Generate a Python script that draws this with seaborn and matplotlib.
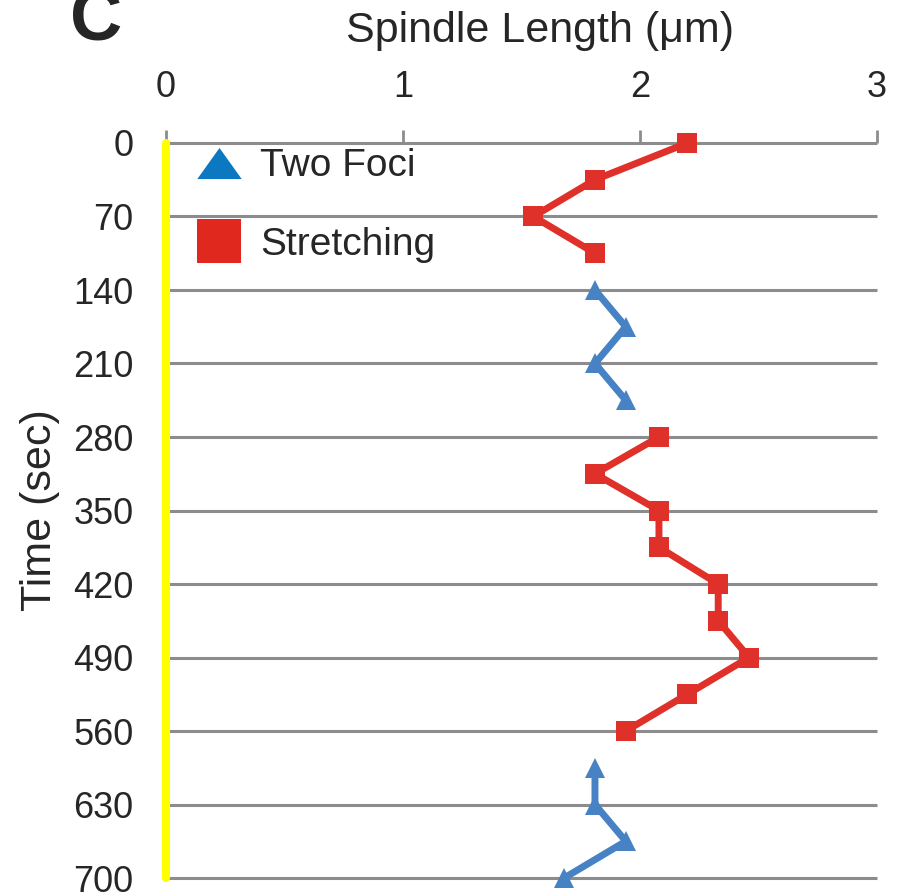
import numpy as np
import pandas as pd
import matplotlib
matplotlib.use("Agg")
import matplotlib.pyplot as plt
import seaborn as sns
from matplotlib.lines import Line2D

# ─────────────────────────────────────────────
# Data
# ─────────────────────────────────────────────
time_sec = [0, 35, 70, 105, 140, 175, 210, 245, 280, 315, 350,
            385, 420, 455, 490, 525, 560, 595, 630, 665, 700]
spindle_um = [2.20, 1.81, 1.55, 1.81,
              1.81, 1.94, 1.81, 1.94,
              2.08, 1.81, 2.08, 2.08, 2.33, 2.33, 2.46, 2.20, 1.94,
              1.81, 1.81, 1.94, 1.68]
phase = (["Stretching"] * 4 + ["Two Foci"] * 4
         + ["Stretching"] * 9 + ["Two Foci"] * 4)
segment = [1] * 4 + [2] * 4 + [3] * 9 + [4] * 4

time_ticks = [0, 70, 140, 210, 280, 350, 420, 490, 560, 630, 700]
length_ticks = [0, 1, 2, 3]

RED = "#e0302a"
BLUE = "#4783c4"
BLUE_LEG = "#0c78c2"
GRID = "#8c8c8c"

df = pd.DataFrame({"time": time_sec, "length": spindle_um,
                   "phase": phase, "segment": segment})

# ─────────────────────────────────────────────
# Figure
# ─────────────────────────────────────────────
sns.set_style("white")
plt.rcParams["font.family"] = ["Liberation Sans", "DejaVu Sans"]

fig = plt.figure(figsize=(9, 8.96), dpi=100)
ax = fig.add_axes([166 / 900, 1 - 878 / 896, (877 - 166) / 900, (878 - 143) / 896])

# horizontal gridlines
ax.hlines(time_ticks, 0, 3, color=GRID, lw=2.2, zorder=0, clip_on=False)

sns.lineplot(data=df, x="length", y="time", hue="phase", style="phase",
             units="segment", estimator=None, sort=False,
             palette={"Stretching": RED, "Two Foci": BLUE},
             markers={"Stretching": "s", "Two Foci": "^"}, dashes=False,
             lw=5, markersize=15, markeredgewidth=0,
             legend=False, ax=ax, clip_on=False, zorder=3)

# yellow reference line at zero
ax.axvline(0, color="#ffff00", lw=5.8, zorder=2, clip_on=False)

ax.set_xlim(0, 3)
ax.set_ylim(700, 0)
ax.set_xticks(length_ticks)
ax.set_yticks(time_ticks)
ax.xaxis.tick_top()
for s in ax.spines.values():
    s.set_visible(False)
ax.tick_params(axis="x", length=9.5, width=2, color=GRID, pad=18,
               labelsize=26, direction="out")
ax.tick_params(axis="y", length=9.5, width=2, color=GRID, pad=14,
               labelsize=26, direction="out")

ax.set_xlabel("Spindle Length (μm)", fontsize=31)
ax.xaxis.set_label_position("top")
ax.xaxis.set_label_coords((540 - 166) / 711, 1 + (143 - 31) / 735)
ax.xaxis.label.set_va("center")
ax.set_ylabel("Time (sec)", fontsize=31)
ax.yaxis.set_label_coords(-(166 - 40) / 711, 0.5)
ax.yaxis.label.set_va("center")

# legend
flat_tri = [(0, 0.7), (-1, -0.7), (1, -0.7)]
handles = [
    Line2D([], [], ls="", marker=flat_tri, ms=32, color=BLUE_LEG, mew=0),
    Line2D([], [], ls="", marker="s", ms=32, color="#e0281e", mew=0),
]
ax.legend(handles, ["Two Foci", "Stretching"], loc="upper left",
          bbox_to_anchor=(0.02, 1.014), frameon=False, fontsize=28,
          handlelength=1.2, handletextpad=0.45, labelspacing=1.1,
          borderaxespad=0)

fig.text(96 / 900, 1 - 21 / 896, "C", fontsize=52, fontweight="bold",
         ha="center", va="center")

fig.savefig("out.png", dpi=100)
plt.close(fig)
